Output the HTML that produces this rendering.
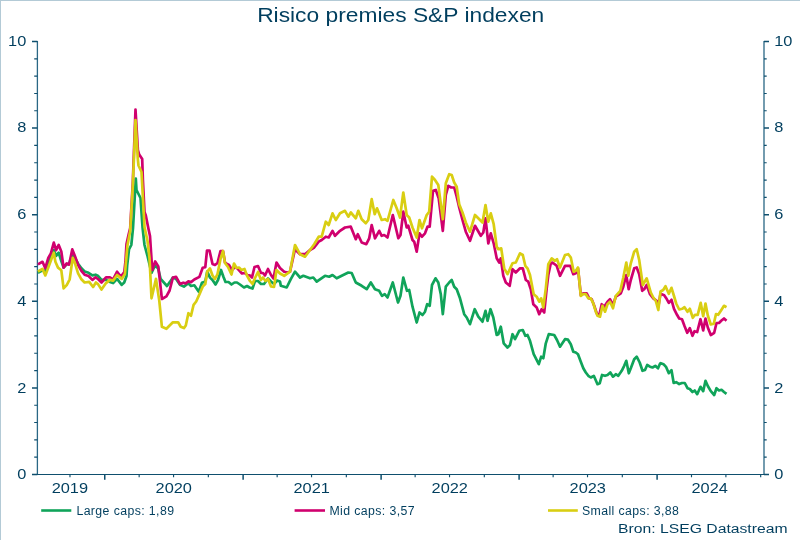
<!DOCTYPE html>
<html><head><meta charset="utf-8">
<style>
html,body{margin:0;padding:0;background:#fff;}
body{width:800px;height:540px;overflow:hidden;position:relative;font-family:"Liberation Sans",sans-serif;}
svg{position:absolute;left:0;top:0;will-change:transform;}
text{font-family:"Liberation Sans",sans-serif;fill:#003e5e;}
</style></head><body>
<svg width="800" height="540" viewBox="0 0 800 540">
<rect x="0" y="0" width="800" height="540" fill="#ffffff"/>
<rect x="0" y="0" width="800" height="1" fill="#b3cad6"/>
<rect x="0" y="0" width="1" height="540" fill="#b3cad6"/>
<path d="M37.4 41V475M764.0 41V475" stroke="#2a6785" stroke-width="1.3" fill="none"/>
<path d="M32 474.5H769M34.2 58.82H37.4M764.0 58.82H766.7M34.2 76.14H37.4M764.0 76.14H766.7M34.2 93.46H37.4M764.0 93.46H766.7M34.2 110.78H37.4M764.0 110.78H766.7M34.2 145.42H37.4M764.0 145.42H766.7M34.2 162.74H37.4M764.0 162.74H766.7M34.2 180.06H37.4M764.0 180.06H766.7M34.2 197.38H37.4M764.0 197.38H766.7M34.2 232.02H37.4M764.0 232.02H766.7M34.2 249.34H37.4M764.0 249.34H766.7M34.2 266.66H37.4M764.0 266.66H766.7M34.2 283.98H37.4M764.0 283.98H766.7M34.2 318.62H37.4M764.0 318.62H766.7M34.2 335.94H37.4M764.0 335.94H766.7M34.2 353.26H37.4M764.0 353.26H766.7M34.2 370.58H37.4M764.0 370.58H766.7M34.2 405.22H37.4M764.0 405.22H766.7M34.2 422.54H37.4M764.0 422.54H766.7M34.2 439.86H37.4M764.0 439.86H766.7M34.2 457.18H37.4M764.0 457.18H766.7M69.97 474.5V477.2M139.15 474.5V477.2M173.56 474.5V477.2M208.34 474.5V477.2M277.15 474.5V477.2M311.55 474.5V477.2M346.33 474.5V477.2M415.14 474.5V477.2M449.54 474.5V477.2M484.32 474.5V477.2M553.13 474.5V477.2M587.53 474.5V477.2M622.31 474.5V477.2M691.50 474.5V477.2M725.90 474.5V477.2M760.68 474.5V477.2" stroke="#0f4f6e" stroke-width="1.15" fill="none"/>
<path d="M32 41.50H37.4M764.0 41.50H769M32 128.10H37.4M764.0 128.10H769M32 214.70H37.4M764.0 214.70H769M32 301.30H37.4M764.0 301.30H769M32 387.90H37.4M764.0 387.90H769M32 474.50H37.4M764.0 474.50H769M104.75 474.5V479.8M243.12 474.5V479.8M381.11 474.5V479.8M519.10 474.5V479.8M657.10 474.5V479.8" stroke="#0f4f6e" stroke-width="1.5" fill="none"/>
<text transform="translate(400.70 22.10) scale(1.140 1)" font-size="20" text-anchor="middle">Risico premies S&amp;P indexen</text>
<text transform="translate(26.30 479.10) scale(1.170 1)" font-size="14" text-anchor="end">0</text>
<text transform="translate(774.20 479.10) scale(1.170 1)" font-size="14" text-anchor="start">0</text>
<text transform="translate(26.30 393.00) scale(1.170 1)" font-size="14" text-anchor="end">2</text>
<text transform="translate(774.20 393.00) scale(1.170 1)" font-size="14" text-anchor="start">2</text>
<text transform="translate(26.30 306.00) scale(1.170 1)" font-size="14" text-anchor="end">4</text>
<text transform="translate(774.20 306.00) scale(1.170 1)" font-size="14" text-anchor="start">4</text>
<text transform="translate(26.30 219.00) scale(1.170 1)" font-size="14" text-anchor="end">6</text>
<text transform="translate(774.20 219.00) scale(1.170 1)" font-size="14" text-anchor="start">6</text>
<text transform="translate(26.30 132.00) scale(1.170 1)" font-size="14" text-anchor="end">8</text>
<text transform="translate(774.20 132.00) scale(1.170 1)" font-size="14" text-anchor="start">8</text>
<text transform="translate(26.30 45.70) scale(1.170 1)" font-size="14" text-anchor="end">10</text>
<text transform="translate(774.20 45.70) scale(1.170 1)" font-size="14" text-anchor="start">10</text>
<text transform="translate(69.85 493.00) scale(1.170 1)" font-size="14" text-anchor="middle">2019</text>
<text transform="translate(173.75 493.00) scale(1.170 1)" font-size="14" text-anchor="middle">2020</text>
<text transform="translate(311.70 493.00) scale(1.170 1)" font-size="14" text-anchor="middle">2021</text>
<text transform="translate(449.75 493.00) scale(1.170 1)" font-size="14" text-anchor="middle">2022</text>
<text transform="translate(587.75 493.00) scale(1.170 1)" font-size="14" text-anchor="middle">2023</text>
<text transform="translate(709.70 493.00) scale(1.170 1)" font-size="14" text-anchor="middle">2024</text>
<g fill="none" stroke-width="2.7" stroke-linejoin="round" stroke-linecap="butt">
<path d="M37.9 272.8 L42.5 270.2 L45.3 271.5 L48.3 262.4 L50.9 256.6 L53.8 250.1 L56.1 255.9 L58.7 252.7 L61.3 261.1 L63.6 267.6 L66.7 264.4 L69.1 263.7 L72.3 254.6 L74.9 257.9 L78.1 263.7 L81.4 268.2 L84.6 271.5 L88.5 272.8 L92.4 275.4 L95.6 274.7 L98.2 276.0 L101.5 279.9 L106.0 279.9 L109.9 281.9 L113.1 283.1 L117.1 278.9 L121.7 284.9 L124.2 282.5 L126.5 276.0 L127.2 265.0 L129.0 249.5 L131.3 245.0 L133.0 228.0 L135.8 178.5 L136.5 190.0 L140.5 198.0 L142.5 227.0 L144.5 245.0 L147.5 256.0 L151.5 273.0 L154.7 265.9 L158.0 268.0 L160.6 278.9 L167.0 286.0 L170.3 281.4 L172.9 277.6 L176.1 278.9 L180.0 284.7 L183.9 286.6 L186.5 284.7 L188.4 283.4 L191.0 286.0 L194.3 285.3 L198.8 291.8 L202.0 282.7 L205.3 281.4 L207.2 271.7 L210.0 277.6 L212.5 280.0 L215.5 284.5 L218.0 280.0 L221.0 270.0 L223.5 277.0 L225.5 282.0 L228.5 282.0 L231.5 284.5 L234.5 282.5 L237.0 282.5 L240.0 284.5 L244.0 287.5 L247.0 286.0 L249.5 287.5 L252.5 288.5 L255.0 281.0 L258.0 281.0 L261.0 284.0 L264.0 284.0 L268.0 278.5 L271.0 281.5 L274.0 284.0 L277.0 280.5 L280.0 281.5 L280.8 285.8 L286.7 287.5 L290.8 279.2 L295.0 271.7 L300.0 277.5 L303.3 275.8 L310.0 278.3 L313.3 277.5 L316.7 281.7 L325.0 275.8 L329.2 276.7 L332.5 275.0 L336.7 278.3 L341.7 275.8 L348.3 272.5 L351.7 273.0 L355.8 282.5 L361.7 285.8 L366.7 289.2 L370.8 282.5 L375.0 289.2 L379.2 290.8 L382.0 295.8 L384.7 294.2 L387.5 297.5 L392.8 282.5 L398.0 302.5 L400.5 295.8 L403.3 277.5 L407.0 290.8 L409.2 290.0 L412.5 306.7 L416.7 322.5 L419.5 312.5 L422.5 315.0 L425.0 311.7 L427.2 304.2 L429.7 305.8 L432.0 285.0 L435.5 278.3 L438.3 282.5 L440.8 294.2 L442.8 314.2 L445.8 286.7 L449.2 282.5 L451.7 280.0 L454.2 286.7 L456.7 289.2 L460.0 298.3 L464.2 314.2 L466.7 317.5 L470.0 324.2 L474.7 309.2 L478.3 316.7 L482.5 321.7 L485.5 310.8 L487.5 320.8 L490.5 309.2 L493.3 317.5 L496.7 335.0 L498.3 334.2 L500.8 326.7 L503.7 343.3 L507.5 347.5 L510.0 345.0 L512.5 334.2 L515.0 339.2 L519.2 330.8 L522.8 330.0 L525.3 335.8 L527.5 335.0 L530.0 340.8 L533.7 354.2 L538.8 364.2 L541.2 356.7 L543.3 358.3 L545.8 343.3 L548.8 334.2 L554.2 335.0 L557.0 340.0 L560.0 346.7 L565.0 339.2 L568.0 339.7 L570.8 344.2 L573.3 351.7 L575.8 352.5 L578.0 354.2 L580.8 361.7 L583.3 368.3 L585.8 372.5 L588.3 375.8 L590.8 377.5 L593.8 375.8 L597.5 384.2 L599.7 383.3 L602.0 375.0 L605.0 375.8 L607.5 375.0 L610.3 372.5 L613.0 376.7 L615.8 374.2 L618.3 375.8 L621.7 370.8 L624.2 365.8 L626.3 360.8 L628.8 373.3 L630.8 368.3 L634.2 359.2 L636.7 356.7 L639.7 362.5 L642.5 370.8 L645.0 370.0 L647.2 365.0 L650.0 366.7 L652.5 367.5 L655.3 365.8 L658.0 368.3 L660.0 363.7 L660.8 363.2 L663.5 364.2 L666.2 367.2 L668.8 373.2 L671.5 370.2 L673.7 383.0 L676.2 382.2 L679.2 384.1 L682.0 383.0 L684.8 383.0 L687.5 388.2 L689.8 389.0 L692.5 392.0 L694.7 390.5 L697.2 394.2 L700.5 386.8 L703.2 391.2 L705.5 380.8 L707.8 386.0 L710.8 391.2 L714.2 395.0 L716.5 388.2 L719.0 390.5 L721.5 389.8 L724.0 392.0 L726.5 393.9" stroke="#10a45a"/>
<path d="M37.9 264.4 L42.5 261.8 L45.3 268.2 L48.3 257.9 L50.9 253.3 L53.8 242.6 L56.1 250.1 L58.7 244.9 L61.3 251.4 L63.6 267.6 L66.7 263.4 L69.1 264.7 L72.3 249.4 L74.9 255.9 L78.1 265.0 L81.4 270.8 L84.6 274.7 L88.5 276.0 L92.4 279.9 L95.6 277.3 L98.2 279.3 L101.5 282.5 L106.0 277.3 L109.9 277.3 L113.1 279.3 L117.1 271.7 L119.6 275.0 L121.7 275.6 L124.3 272.0 L125.4 262.0 L126.5 244.0 L128.5 235.0 L130.2 228.0 L132.8 183.0 L135.5 109.5 L137.9 150.0 L139.2 154.5 L142.2 159.0 L142.9 180.0 L144.5 212.0 L145.8 215.5 L148.5 229.0 L150.0 236.0 L152.2 270.0 L155.2 261.5 L158.3 266.5 L159.5 277.0 L161.9 299.0 L166.4 296.4 L169.6 290.5 L172.9 277.6 L176.1 276.9 L180.0 284.0 L183.2 282.7 L185.8 283.4 L188.4 281.4 L191.0 282.1 L194.3 279.5 L199.4 276.9 L202.7 267.8 L205.3 267.2 L207.0 250.5 L209.5 250.5 L212.5 264.0 L215.0 265.0 L217.5 263.0 L220.5 251.0 L223.0 251.0 L225.0 262.5 L227.0 264.0 L229.0 265.0 L232.0 270.0 L235.0 267.0 L238.0 269.0 L242.0 273.5 L244.5 273.0 L247.5 275.0 L250.0 275.5 L252.0 277.5 L254.5 267.0 L258.0 266.0 L261.0 273.0 L263.0 273.0 L265.0 275.5 L268.0 269.0 L271.0 275.0 L273.5 278.5 L276.5 262.5 L280.0 268.0 L284.2 271.7 L287.5 272.5 L290.0 271.7 L295.0 249.2 L300.0 254.2 L305.0 254.2 L310.0 250.0 L314.2 247.5 L318.7 241.7 L321.7 240.0 L325.8 236.7 L328.7 237.5 L332.5 230.8 L335.0 235.8 L340.0 230.8 L345.0 227.5 L350.8 226.7 L355.8 239.2 L357.8 234.2 L361.7 242.5 L366.3 244.2 L369.2 238.3 L371.7 225.0 L375.0 238.3 L379.2 230.8 L381.7 235.8 L384.2 235.0 L387.5 237.5 L392.8 215.0 L398.3 238.3 L400.5 235.0 L403.3 211.7 L406.7 227.5 L408.3 225.8 L412.5 240.0 L414.2 241.7 L416.7 251.7 L419.5 233.3 L422.0 236.7 L425.0 233.3 L427.5 226.7 L429.7 226.7 L433.0 190.8 L435.8 190.0 L438.7 198.3 L442.8 230.8 L445.8 195.0 L448.3 185.8 L451.2 187.5 L454.2 187.5 L456.7 196.7 L459.2 207.5 L462.5 220.0 L465.8 231.7 L470.0 240.8 L475.0 225.8 L480.8 235.8 L483.3 232.5 L485.5 218.3 L488.3 243.3 L490.8 233.3 L493.7 243.3 L496.7 258.3 L499.2 262.5 L500.8 258.3 L503.3 275.8 L505.8 282.5 L509.7 285.8 L512.5 269.2 L515.8 272.5 L520.0 268.3 L522.8 268.3 L525.8 280.0 L528.3 281.7 L530.8 289.2 L533.3 304.2 L536.7 307.5 L539.2 314.2 L541.7 309.2 L544.2 312.5 L546.7 288.3 L548.3 275.0 L550.8 263.3 L552.5 262.5 L556.7 265.8 L560.0 275.8 L565.0 265.8 L570.3 265.8 L573.3 274.2 L575.8 273.3 L578.0 268.3 L580.8 295.0 L583.3 293.3 L586.7 293.3 L589.2 298.3 L591.7 299.2 L594.2 305.8 L596.7 313.3 L599.2 315.8 L601.7 304.2 L604.2 306.7 L607.5 301.7 L610.0 299.2 L613.0 305.0 L615.8 296.7 L620.8 293.3 L623.3 286.7 L626.2 275.0 L628.7 289.2 L630.8 280.0 L634.2 268.3 L636.7 267.5 L639.2 274.2 L642.2 290.8 L644.2 289.2 L646.7 285.0 L650.0 294.2 L653.3 298.3 L656.7 300.8 L658.3 306.7 L660.5 293.8 L664.2 295.2 L666.2 298.2 L668.8 302.8 L671.5 299.8 L674.0 308.8 L677.0 314.8 L679.2 318.5 L682.0 319.2 L684.5 326.0 L687.2 332.8 L689.8 328.2 L692.5 335.8 L694.5 331.2 L697.2 332.0 L700.5 319.2 L703.2 330.5 L705.5 318.5 L707.8 327.5 L710.8 335.0 L714.2 332.8 L716.5 323.0 L719.0 323.0 L721.2 320.8 L724.0 318.5 L726.5 320.8" stroke="#d0006e"/>
<path d="M37.9 271.5 L42.5 268.9 L45.3 275.4 L48.3 267.6 L50.9 260.5 L53.8 252.7 L55.4 261.8 L58.0 267.6 L61.3 270.2 L63.6 288.3 L66.7 285.1 L69.7 279.3 L72.7 257.9 L74.9 263.1 L78.1 273.4 L81.4 279.3 L84.6 282.5 L89.2 281.9 L93.1 287.0 L95.9 282.5 L98.2 284.4 L101.5 289.6 L106.0 283.1 L109.9 279.9 L113.1 280.6 L117.1 275.0 L121.7 278.9 L124.9 274.0 L127.5 245.0 L130.2 231.0 L132.8 186.0 L135.5 120.0 L137.8 158.8 L138.5 165.5 L141.5 172.0 L144.5 227.0 L147.5 241.0 L149.5 258.0 L151.5 298.3 L156.0 278.9 L159.3 300.9 L161.9 326.8 L166.4 328.8 L169.6 325.5 L172.9 322.3 L178.1 322.3 L180.7 326.8 L183.9 328.1 L185.8 325.5 L188.4 313.2 L191.0 315.8 L193.6 304.8 L196.2 301.5 L199.4 294.4 L202.7 286.6 L205.3 284.0 L207.2 271.7 L210.0 268.5 L212.5 275.5 L215.0 279.0 L217.5 274.0 L220.5 259.0 L223.0 251.0 L225.0 263.0 L228.0 267.0 L231.5 274.5 L234.0 263.5 L236.5 268.0 L239.0 267.5 L241.5 270.0 L244.5 269.0 L247.0 275.5 L250.0 281.0 L252.5 284.0 L255.0 278.0 L258.0 272.0 L261.0 280.0 L263.0 277.5 L265.5 281.0 L268.0 279.0 L271.0 286.5 L274.0 287.0 L276.5 270.0 L280.0 273.5 L284.2 275.8 L290.0 271.7 L295.0 245.0 L300.0 254.2 L305.0 256.7 L310.0 250.0 L314.2 244.2 L318.7 236.7 L321.7 236.7 L325.8 221.7 L328.7 225.0 L332.5 213.3 L335.8 220.0 L340.0 213.3 L345.0 210.8 L348.3 216.7 L350.8 212.5 L355.8 218.3 L358.3 210.8 L361.7 219.2 L365.8 223.3 L368.3 220.0 L371.7 199.2 L374.7 214.2 L377.0 208.3 L381.7 220.0 L385.0 219.2 L387.5 220.8 L393.3 200.0 L396.7 208.3 L400.0 217.5 L403.3 192.5 L406.7 215.0 L409.2 217.5 L412.5 227.5 L416.7 237.5 L419.5 220.0 L422.0 228.3 L426.7 215.0 L429.2 211.7 L432.0 176.7 L435.0 180.0 L438.3 185.0 L442.8 219.2 L445.8 183.3 L449.2 174.2 L451.7 175.0 L454.2 182.5 L456.7 186.7 L459.2 204.2 L462.5 212.5 L465.8 222.5 L470.0 231.7 L475.0 215.0 L478.3 218.3 L482.5 222.5 L485.5 205.0 L488.3 221.7 L490.8 213.3 L493.7 224.2 L496.7 246.7 L498.3 249.2 L501.2 248.3 L504.2 268.3 L507.5 274.2 L512.5 263.3 L515.8 262.5 L520.0 253.3 L522.8 255.0 L525.3 265.8 L527.5 268.3 L530.0 275.0 L533.7 294.2 L536.7 296.7 L539.2 301.7 L541.2 298.3 L543.3 307.5 L545.8 288.3 L548.3 264.2 L551.7 258.3 L555.0 260.8 L557.0 259.2 L560.0 267.5 L565.0 255.0 L568.3 254.2 L570.8 257.5 L573.7 271.7 L575.8 270.8 L578.0 267.5 L580.8 295.8 L583.3 294.2 L585.8 294.2 L588.3 298.3 L590.8 298.3 L593.3 303.3 L595.8 311.7 L597.5 315.8 L600.0 316.7 L602.5 305.8 L605.0 311.7 L607.5 304.2 L610.0 301.7 L613.0 308.3 L615.8 295.8 L620.3 290.8 L623.3 277.5 L626.3 262.5 L628.3 275.8 L630.8 263.3 L634.2 251.7 L636.7 249.2 L639.2 260.0 L642.8 285.0 L646.7 278.3 L650.8 292.5 L653.3 297.5 L655.8 300.8 L658.3 310.0 L660.5 291.5 L663.2 290.0 L665.5 286.2 L668.8 293.8 L671.5 287.8 L674.0 296.0 L676.2 303.5 L679.2 309.5 L682.2 308.8 L684.5 307.2 L687.5 311.8 L689.8 308.8 L692.8 317.8 L695.0 314.8 L697.7 314.8 L700.7 302.8 L703.2 316.2 L705.5 303.5 L707.8 315.5 L710.8 324.5 L713.8 323.8 L716.0 314.0 L718.2 314.8 L721.2 310.2 L724.0 305.8 L726.5 307.2" stroke="#d9ce12"/>
</g>
<g stroke-width="2.6" fill="none"><path d="M41.2 510.5H71.3" stroke="#10a45a"/><path d="M294.6 510.5H325" stroke="#d0006e"/><path d="M548 510.5H577.8" stroke="#d9ce12"/></g>
<text x="76.4" y="514.6" font-size="12.3" letter-spacing="0.4" fill="#0a4866">Large caps: 1,89</text>
<text x="329.4" y="514.6" font-size="12.3" letter-spacing="0.4" fill="#0a4866">Mid caps: 3,57</text>
<text x="582.0" y="514.6" font-size="12.3" letter-spacing="0.4" fill="#0a4866">Small caps: 3,88</text>
<text transform="translate(787.50 533.40) scale(1.165 1)" font-size="13.5" text-anchor="end">Bron: LSEG Datastream</text>
</svg>
</body></html>
